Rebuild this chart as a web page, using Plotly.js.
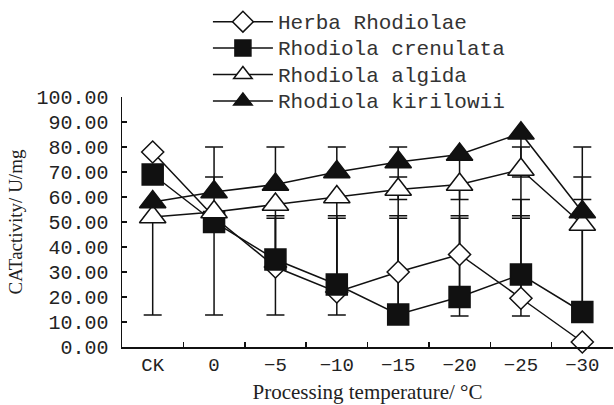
<!DOCTYPE html>
<html>
<head>
<meta charset="utf-8">
<script src="https://cdn.plot.ly/plotly-3.0.1.min.js"></script>
<style>html,body{margin:0;padding:0;background:#fff;}#chart{width:614px;height:405px;}</style>
</head>
<body>
<div id="chart"></div>
<script>
// Categories (processing temperature)
const categories = ["CK", "0", "\u22125", "\u221210", "\u221215", "\u221220", "\u221225", "\u221230"];

// CAT activity (U/mg) per species
const herbaRhodiolae     = [78, 52, 32, 22, 30, 37, 19.5, 2];
const rhodiolaCrenulata  = [69, 50, 35, 25, 13, 20, 29, 14];
const rhodiolaAlgida     = [52, 54, 57, 60, 63, 65, 71, 49];
const rhodiolaKirilowii  = [58, 62, 65, 70, 74, 77, 85.5, 54];

// Error bars (plus / minus), null = no bar
const herbaErrPlus   = [null, null, 20.5, 30.5, 22.5, 15.5, 39.5, null];
const herbaErrMinus  = [null, null, 0, 0, 0, 0, 0, null];
const crenErrPlus    = [null, 0, 16.5, 26.5, 38.5, 31.5, 23.5, 45];
const crenErrMinus   = [null, 37.2, 0, 0, 0, 0, 16.6, 0];
const algidaErrPlus  = [0, 14, 0, 0, 5, 0, 9, 19];
const algidaErrMinus = [39.2, 0, 44.2, 47.2, 50.2, 52.6, 3, 35];
const kirErrPlus     = [null, 18, 15, 10, 6, 0, 0, 26];
const kirErrMinus    = [null, 0, 0, 0, 15, 18, 34, 0];

// Axis tick labels
const yTickVals = [0, 10, 20, 30, 40, 50, 60, 70, 80, 90, 100];
const yTickText = ["0.00", "10.00", "20.00", "30.00", "40.00", "50.00", "60.00", "70.00", "80.00", "90.00", "100.00"];

const seriesNames = ["Herba Rhodiolae", "Rhodiola crenulata", "Rhodiola algida", "Rhodiola kirilowii"];

const nanify = a => a.map(v => (v === null ? NaN : v));

function errTrace(y, plus, minus) {
  return {
    x: categories, y: y, type: "scatter", mode: "markers",
    marker: {color: "rgba(0,0,0,0)", size: 1},
    error_y: {type: "data", symmetric: false, array: nanify(plus), arrayminus: nanify(minus),
              color: "#111", thickness: 1.5, width: 9},
    showlegend: false, hoverinfo: "skip", cliponaxis: false
  };
}

function mainTrace(name, y, symbol, fill, size) {
  return {
    x: categories, y: y, type: "scatter", mode: "lines+markers",
    name: '<span style="font-size:21px">' + name + '</span>',
    line: {color: "#111", width: 1.5},
    marker: {symbol: symbol, size: size, color: fill, line: {color: "#111", width: 1.5}},
    cliponaxis: false
  };
}

const data = [
  errTrace(herbaRhodiolae, herbaErrPlus, herbaErrMinus),
  errTrace(rhodiolaCrenulata, crenErrPlus, crenErrMinus),
  errTrace(rhodiolaAlgida, algidaErrPlus, algidaErrMinus),
  errTrace(rhodiolaKirilowii, kirErrPlus, kirErrMinus),
  mainTrace(seriesNames[0], herbaRhodiolae, "diamond", "#fff", 17),
  mainTrace(seriesNames[1], rhodiolaCrenulata, "square", "#111", 21),
  mainTrace(seriesNames[2], rhodiolaAlgida, "triangle-up", "#fff", 23),
  mainTrace(seriesNames[3], rhodiolaKirilowii, "triangle-up", "#111", 23)
];

const layout = {
  width: 614, height: 405,
  margin: {l: 122, r: 1, t: 97, b: 58},
  paper_bgcolor: "#fff", plot_bgcolor: "#fff",
  showlegend: true,
  legend: {
    x: 0.175, xanchor: "left", y: 1.374, yanchor: "top",
    itemwidth: 60,
    font: {family: "Liberation Mono, monospace", size: 18, color: "#333"},
    bgcolor: "rgba(0,0,0,0)", borderwidth: 0, tracegroupgap: 0
  },
  xaxis: {
    type: "category", range: [-0.5, 7.5],
    showline: true, linecolor: "#111", linewidth: 1.5,
    ticks: "inside", ticklen: 5, tickwidth: 1.5, tickcolor: "#111", tickson: "boundaries",
    showgrid: false, zeroline: false,
    tickfont: {family: "Liberation Mono, monospace", size: 19, color: "#222"},
    title: {text: "Processing temperature/ \u00B0C", font: {family: "Liberation Serif, serif", size: 21, color: "#222"}, standoff: 8}
  },
  yaxis: {
    range: [0, 100], tickvals: yTickVals, ticktext: yTickText,
    showline: true, linecolor: "#111", linewidth: 1.5,
    ticks: "inside", ticklen: 5, tickwidth: 1.5, tickcolor: "#111",
    ticklabelstandoff: 8,
    showgrid: false, zeroline: false,
    tickfont: {family: "Liberation Mono, monospace", size: 20, color: "#222"},
    title: {text: "CATactivity/ U/mg", font: {family: "Liberation Serif, serif", size: 19, color: "#222"}, standoff: 9}
  }
};

Plotly.newPlot("chart", data, layout, {displayModeBar: false, staticPlot: true});
</script>
</body>
</html>
